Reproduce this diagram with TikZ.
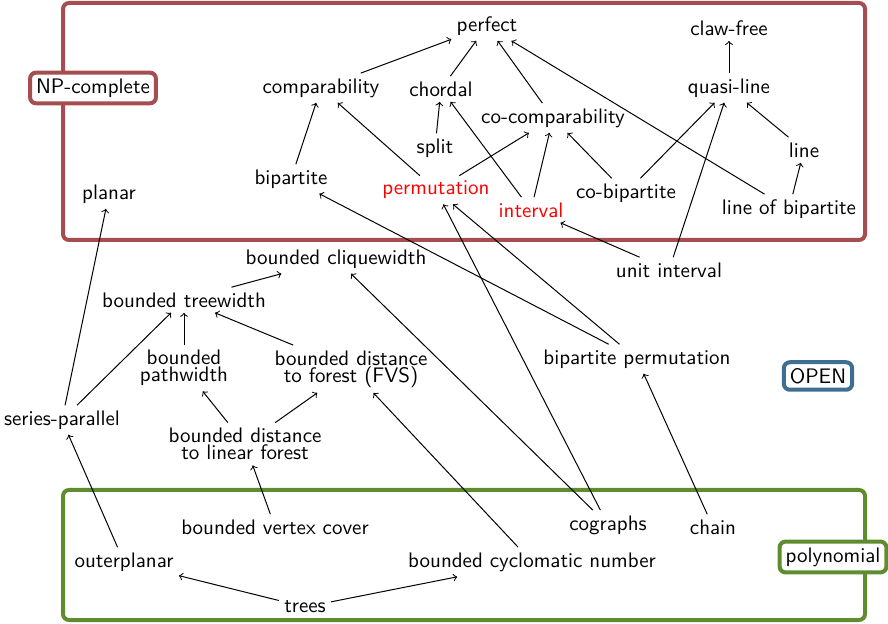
\documentclass[tikz,border=0pt]{standalone}
\usepackage{fontspec}
\definecolor{npcol}{RGB}{166,77,82}
\definecolor{opencol}{RGB}{62,110,145}
\definecolor{polycol}{RGB}{96,140,48}
\begin{document}
\begin{tikzpicture}[x=0.5pt,y=-0.5pt,
  cls/.style={font=\sffamily\fontsize{10.5}{8.6}\selectfont, inner sep=2.5pt, align=center},
  hard/.style={cls, text=red},
  arr/.style={->, line width=0.5pt},
  region/.style={line width=2pt, rounded corners=3pt},
  tag/.style={draw, line width=2pt, rounded corners=3pt, fill=white, inner sep=3pt,
              font=\sffamily\fontsize{10.5}{12}\selectfont}]
\useasboundingbox (0,0) rectangle (888,624);

% complexity regions
\draw[region, npcol] (63,3) rectangle (865,240);
\draw[region, polycol] (63,490) rectangle (865,620);

% graph classes
\node[cls] (perfect) at (487,26) {perfect};
\node[cls] (clawfree) at (729,28) {claw-free};
\node[cls] (comp) at (321,88) {comparability};
\node[cls] (chordal) at (441,89) {chordal};
\node[cls] (quasi) at (729,88) {quasi-line};
\node[cls] (cocomp) at (553,118) {co-comparability};
\node[cls] (split) at (435,148) {split};
\node[cls] (line) at (804,150) {line};
\node[cls] (bip) at (291,179) {bipartite};
\node[hard] (perm) at (436,190) {permutation};
\node[hard] (interval) at (531,210) {interval};
\node[cls] (cobip) at (626,193) {co-bipartite};
\node[cls] (linebip) at (789,209) {line of bipartite};
\node[cls] (planar) at (109,194) {planar};
\node[cls] (bcw) at (336,259) {bounded cliquewidth};
\node[cls] (unitint) at (669,270) {unit interval};
\node[cls] (btw) at (184,300) {bounded treewidth};
\node[cls] (bpw) at (184,368) {bounded\\pathwidth};
\node[cls] (bfvs) at (351,369) {bounded distance\\to forest (FVS)};
\node[cls] (bipperm) at (637,359) {bipartite permutation};
\node[cls] (sp) at (62,420) {series-parallel};
\node[cls] (blf) at (245,444) {bounded distance\\to linear forest};
\node[cls] (bvc) at (275,527) {bounded vertex cover};
\node[cls] (cographs) at (608,525) {cographs};
\node[cls] (chain) at (713,527) {chain};
\node[cls] (outer) at (124,562) {outerplanar};
\node[cls] (bcn) at (532,562) {bounded cyclomatic number};
\node[cls] (trees) at (305,607) {trees};

% inclusions: arrow points to the larger class
\foreach \a/\b in {comp/perfect, chordal/perfect, cocomp/perfect, linebip/perfect,
    quasi/clawfree, bip/comp, perm/comp, split/chordal, interval/chordal,
    perm/cocomp, interval/cocomp, cobip/cocomp, cobip/quasi, unitint/quasi,
    line/quasi, linebip/line, bipperm/bip, bipperm/perm, cographs/perm,
    unitint/interval, sp/planar, sp/btw, btw/bcw, cographs/bcw, bpw/btw,
    bfvs/btw, blf/bpw, blf/bfvs, bvc/blf, bcn/bfvs, chain/bipperm,
    outer/sp, trees/outer, trees/bcn}
  \draw[arr] (\a) -- (\b);

% region tags
\node[tag, draw=npcol] (np) at (93,88) {NP-complete};
\node[tag, draw=opencol] (open) at (818,376) {OPEN};
\node[tag, draw=polycol] (poly) at (833,557) {polynomial};
\end{tikzpicture}
\end{document}
